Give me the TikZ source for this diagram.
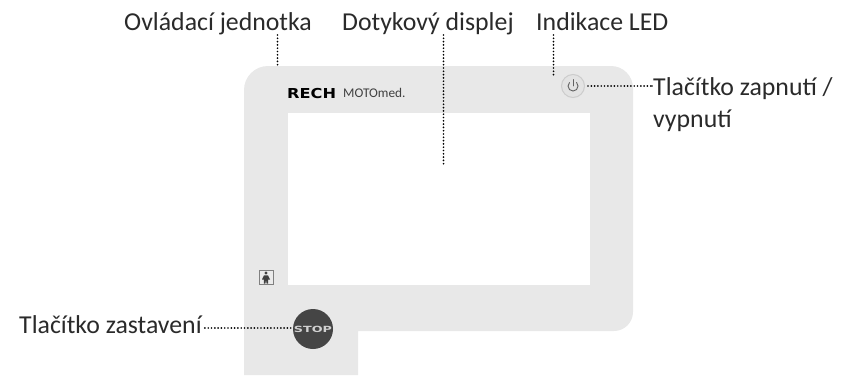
\documentclass[tikz,border=0pt]{standalone}
\usepackage{fontspec}
\setmainfont{Carlito}
\newfontfamily\logofont{DejaVu Sans}
\definecolor{panelgray}{HTML}{E8E8E8}
\definecolor{stopgray}{HTML}{454545}
\definecolor{labelink}{HTML}{2A2A2A}
\tikzset{
  lbl/.style={font=\fontsize{25.8}{32}\selectfont, text=labelink, inner sep=0pt, align=left},
  leader/.style={line width=1.9pt, line cap=round, dash pattern=on 0pt off 3.3pt, black},
}
\begin{document}
\begin{tikzpicture}[x=1pt,y=-1pt]
\useasboundingbox (0,0) rectangle (857,375);
% panel
\fill[panelgray] (244,375) -- (244,90) arc[start angle=180,end angle=270,radius=24] -- (611,66)
  arc[start angle=270,end angle=360,radius=22] -- (633,312)
  arc[start angle=0,end angle=90,radius=19] -- (358,331) -- (358,375) -- cycle;
\fill[white] (288,113) rectangle (590,285);
% logo
\node[font=\logofont\bfseries\fontsize{13.7}{14}\selectfont, inner sep=0pt, anchor=base west, xscale=1.18, text=black] (rech) at (287,98) {RECH};
\node[font=\fontsize{13.3}{14}\selectfont, inner sep=0pt, anchor=base west, text=black!75] (moto) at (343,97) {MOTOmed.};
% power button
\node[circle, draw=black!20, line width=1pt, fill=black!11, minimum size=23pt, inner sep=0pt] (power) at (573,86) {};
\draw[black!62, line width=0.9pt, line cap=round] (569.5,82.5) arc[start angle=225,end angle=-45,radius=5];
\draw[black!62, line width=0.9pt, line cap=round] (573,79.5) -- (573,86);
% person icon
\node[draw=black!50, fill=black!8, line width=0.8pt, minimum size=14pt, inner sep=0pt] (person) at (266,277.5) {};
\fill[black!75] (266,273) circle[radius=1.6];
\fill[black!75] (264,275.3) -- (268,275.3) -- (270,279.5) -- (268.2,279.5) -- (268.2,283.5) -- (266.6,283.5) -- (266,280) -- (265.4,283.5) -- (263.8,283.5) -- (263.8,279.5) -- (262,279.5) -- cycle;
% stop button
\node[circle, fill=stopgray, minimum size=40pt, inner sep=0pt, text=black!18, font=\logofont\bfseries\fontsize{8.5}{9}\selectfont] (stop) at (313,329) {\scalebox{1.5}[1]{STOP}};
% labels
\node[lbl, anchor=base west] (ctrl) at (124,30) {Ovládací jednotka};
\node[lbl, anchor=base west] (disp) at (342,30) {Dotykový displej};
\node[lbl, anchor=base west] (led) at (536,30) {Indikace LED};
\node[lbl, anchor=base west] (onoff) at (653,95) {Tlačítko zapnutí /};
\node[lbl, anchor=base west] (onoffb) at (653,127) {vypnutí};
\node[lbl, anchor=base west] (halt) at (19,333) {Tlačítko zastavení};
% connector ends
\coordinate (ctrlend) at (277.5,66);
\coordinate (dispend) at (443.5,164);
\coordinate (ledend) at (553.5,77);
% connectors
\draw[leader] (ctrlend |- 0,35) -- (ctrlend);
\draw[leader] (dispend |- 0,35) -- (dispend);
\draw[leader] (ledend |- 0,35) -- (ledend);
\draw[leader] (power.east) ++(3,0) -- (onoff.west |- power.center) -- ++(-2,0);
\draw[leader] (halt.east |- stop.center) ++(3,-1) -- (stop.west |- 0,328);
\end{tikzpicture}
\end{document}
